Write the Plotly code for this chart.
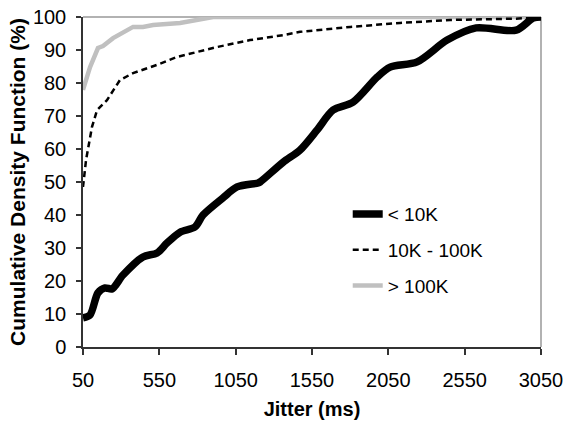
import plotly.graph_objects as go

# < 10K
small_x = [50, 96, 148, 194, 240, 312, 443, 535, 600, 686, 784, 836, 967, 1059, 1197, 1210,
           1361, 1472, 1584, 1688, 1819, 1977, 2062, 2239, 2435, 2625, 2887, 2999, 3050]
small_y = [8.8, 9.7, 16.4, 17.9, 17.6, 21.8, 27.3, 28.5, 31.5, 34.8, 36.4, 40, 45.2, 48.5, 49.7, 50,
           56, 59.7, 65.8, 71.8, 74.2, 81.8, 84.8, 86.4, 93, 96.7, 96, 99.7, 100]

# 10K - 100K
mid_x = [50, 70, 109, 142, 207, 292, 378, 535, 666, 928, 1144, 1361, 1472, 1800, 2127, 2455, 2887, 3050]
mid_y = [48.5, 56.7, 66.7, 71.8, 74.8, 80.9, 83, 85.5, 87.9, 90.9, 93, 94.5, 95.5, 97, 98.2, 99.1, 99.5, 100]

# > 100K
big_x = [50, 96, 148, 181, 247, 312, 378, 443, 509, 686, 817, 902, 3050]
big_y = [77.9, 84.8, 90.6, 91.2, 93.6, 95.2, 97, 97, 97.6, 98.2, 99.4, 100, 100]

names = ["< 10K", "10K - 100K", "> 100K"]
x_ticks = [50, 550, 1050, 1550, 2050, 2550, 3050]
y_ticks = [0, 10, 20, 30, 40, 50, 60, 70, 80, 90, 100]

FONT = "Liberation Sans, Arial, sans-serif"

fig = go.Figure()
fig.add_trace(go.Scatter(x=big_x, y=big_y, mode="lines", name=names[2], legendgroup="c", legendrank=3,
                         line=dict(color="#c0c0c0", width=4.5)))
fig.add_trace(go.Scatter(x=mid_x, y=mid_y, mode="lines", name=names[1], legendgroup="b", legendrank=2,
                         line=dict(color="black", width=2.5, dash="6px,4px")))
fig.add_trace(go.Scatter(x=small_x, y=small_y, mode="lines", name=names[0], legendgroup="a", legendrank=1,
                         line=dict(color="black", width=7.5, shape="spline", smoothing=0.8)))

fig.update_layout(
    template="none",
    width=566, height=428,
    margin=dict(l=83, r=25, t=17, b=81, autoexpand=False),
    paper_bgcolor="white", plot_bgcolor="white",
    font=dict(family=FONT, size=20, color="black"),
    showlegend=True,
    legend=dict(x=0.578, y=0.46, xanchor="left", yanchor="top",
                bgcolor="rgba(0,0,0,0)", font=dict(size=19),
                traceorder="grouped", tracegroupgap=8, itemwidth=30),
    xaxis=dict(range=[50, 3050], tickmode="array", tickvals=x_ticks,
               ticktext=[str(v) for v in x_ticks], automargin=False,
               showgrid=False, zeroline=False, showline=True, linecolor="#333333", linewidth=1.5,
               ticks="outside", ticklen=6, tickcolor="#333333", tickwidth=1.5,
               tickfont=dict(size=20), ticklabelstandoff=8,
               title=dict(text="<b>Jitter (ms)</b>", font=dict(size=20), standoff=12)),
    yaxis=dict(range=[0, 100], tickmode="array", tickvals=y_ticks, automargin=False,
               showgrid=False, zeroline=False, showline=True, linecolor="#333333", linewidth=1.5,
               ticks="outside", ticklen=5, tickcolor="#333333", tickwidth=1.5,
               tickfont=dict(size=20), ticklabelstandoff=6,
               title=dict(text="<b>Cumulative Density Function (%)</b>", font=dict(size=21), standoff=2)),
    shapes=[
        dict(type="line", xref="paper", yref="paper", x0=0, x1=1, y0=1, y1=1,
             line=dict(color="#999999", width=1.5), layer="below"),
        dict(type="line", xref="paper", yref="paper", x0=1, x1=1, y0=0, y1=1,
             line=dict(color="#999999", width=1.5), layer="below"),
    ],
)

fig.write_html("out.html", config={"displayModeBar": False},
               post_script="document.body.style.margin='0px';")
